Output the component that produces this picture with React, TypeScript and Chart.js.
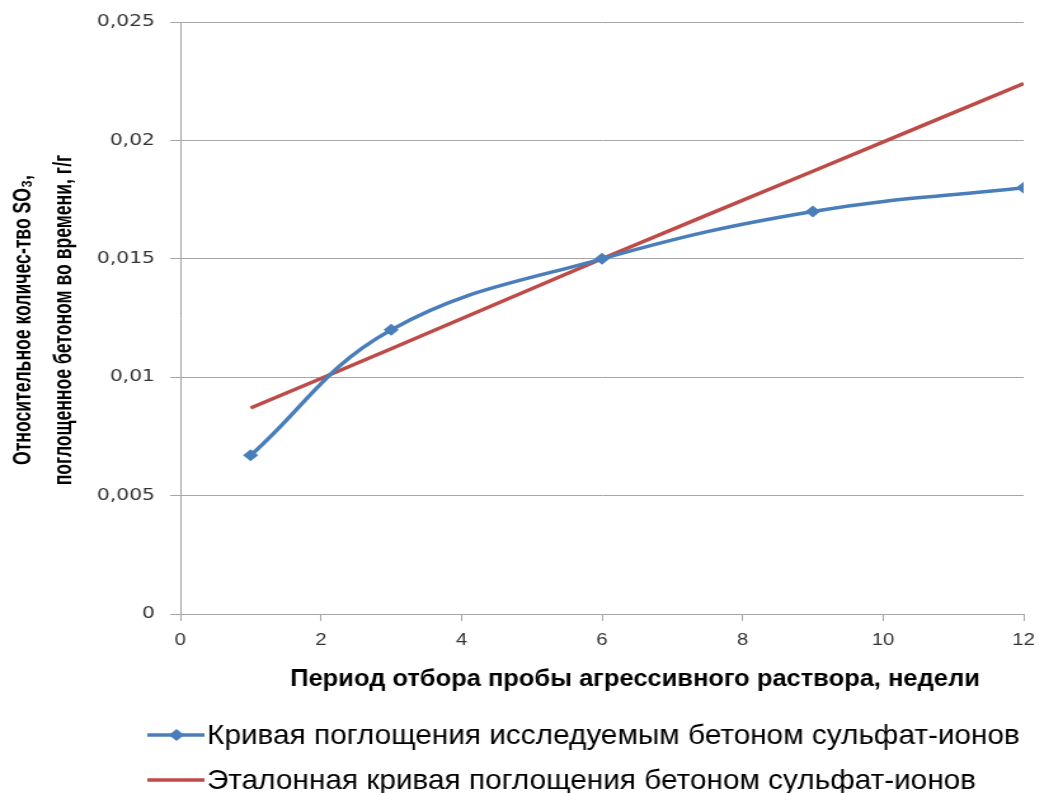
import React, { useEffect, useRef } from "react";
import { Chart, registerables } from "chart.js";

Chart.register(...registerables);

// ---- data ----
const weeks = [1, 3, 6, 9, 12];
const studiedConcrete = [0.0067, 0.012, 0.015, 0.017, 0.018];
const referenceConcrete = [0.0087, 0.0112, 0.015, 0.0187, 0.0224];
const seriesNames = [
  "Кривая поглощения исследуемым бетоном сульфат-ионов",
  "Эталонная кривая поглощения бетоном сульфат-ионов",
];
const xTitle = "Период отбора пробы агрессивного раствора, недели";
const yTitle = ["Относительное количес-тво SO₃,", "поглощенное бетоном во времени, г/г"];

const BLUE = "#4a7ebb";
const RED = "#be4b48";
const GRID = "#a6a6a6";
const SANS = '"Liberation Sans", Arial, sans-serif';
const STRETCH = 1.27;
const W = Math.round(1039 / STRETCH);
const H = 793;

const fmt = (v: number) => (Math.round(v * 1000) / 1000).toString().replace(".", ",");

// draw text condensed horizontally by `factor`
function fitText(ctx: CanvasRenderingContext2D, text: string, x: number, y: number, factor: number, align: "left" | "center") {
  ctx.save();
  ctx.translate(x, y);
  ctx.scale(factor, 1);
  ctx.textAlign = align;
  ctx.fillText(text, 0, 0);
  ctx.restore();
}

const overlay = {
  id: "overlay",
  afterDraw(chart: any) {
    const { ctx, chartArea } = chart;
    const ca = chartArea;
    ctx.save();
    ctx.fillStyle = "#000";
    ctx.textBaseline = "middle";

    // y title (rotated, two lines)
    ctx.font = `bold 21px ${SANS}`;
    const yFactor = 290 / ctx.measureText(yTitle[0]).width;
    const cy = (ca.top + ca.bottom) / 2 + 2;
    const lineX = [ca.left - 124, ca.left - 92];
    for (let i = 0; i < yTitle.length; i++) {
      ctx.save();
      ctx.translate(lineX[i], cy);
      ctx.rotate(-Math.PI / 2);
      fitText(ctx, yTitle[i], 0, 0, yFactor, "center");
      ctx.restore();
    }

    // x title
    ctx.font = `bold 24px ${SANS}`;
    const xFactor = 543 / ctx.measureText(xTitle).width;
    fitText(ctx, xTitle, (ca.left + ca.right) / 2 + 26, ca.bottom + 65, xFactor, "center");

    // legend
    const colors = [BLUE, RED];
    const rows = [ca.bottom + 121, ca.bottom + 166];
    ctx.font = `28px ${SANS}`;
    const lFactor = 640 / ctx.measureText(seriesNames[0]).width;
    for (let i = 0; i < 2; i++) {
      const y = rows[i];
      ctx.strokeStyle = colors[i];
      ctx.lineWidth = 3.5;
      ctx.beginPath();
      ctx.moveTo(ca.left - 26, y);
      ctx.lineTo(ca.left + 19, y);
      ctx.stroke();
      if (i === 0) {
        const cx = ca.left - 3;
        ctx.fillStyle = colors[i];
        ctx.beginPath();
        ctx.moveTo(cx, y - 6);
        ctx.lineTo(cx + 6, y);
        ctx.lineTo(cx, y + 6);
        ctx.lineTo(cx - 6, y);
        ctx.closePath();
        ctx.fill();
      }
      ctx.fillStyle = "#000";
      fitText(ctx, seriesNames[i], ca.left + 21, y + 1, lFactor, "left");
    }
    ctx.restore();
  },
};

export default function App() {
  const ref = useRef<HTMLCanvasElement | null>(null);
  useEffect(() => {
    document.body.style.margin = "0";
    document.body.style.overflow = "hidden";
    const canvas = ref.current!;
    const chart = new Chart(canvas, {
      type: "line",
      data: {
        datasets: [
          {
            label: seriesNames[0],
            data: weeks.map((w, i) => ({ x: w, y: studiedConcrete[i] })),
            borderColor: BLUE,
            backgroundColor: BLUE,
            borderWidth: 3.5,
            pointStyle: "rectRot",
            pointRadius: 6,
            pointBorderWidth: 0,
            pointBackgroundColor: BLUE,
            tension: 0.4,
          },
          {
            label: seriesNames[1],
            data: weeks.map((w, i) => ({ x: w, y: referenceConcrete[i] })),
            borderColor: RED,
            backgroundColor: RED,
            borderWidth: 3.5,
            pointRadius: 0,
            tension: 0.3,
          },
        ],
      },
      options: {
        responsive: false,
        animation: false,
        devicePixelRatio: window.devicePixelRatio || 1,
        layout: { padding: { top: 22, right: 12, bottom: 79, left: 0 } },
        plugins: { legend: { display: false }, tooltip: { enabled: false } },
        scales: {
          x: {
            type: "linear",
            min: 0,
            max: 12,
            ticks: { stepSize: 2, color: "#333", font: { family: SANS, size: 16 }, padding: 10 },
            grid: { drawOnChartArea: false, drawTicks: true, tickLength: 7, color: GRID },
            border: { color: GRID, width: 1 },
            afterFit: (s: any) => {
              s.height = 100;
              s.paddingRight = 0;
              s.paddingLeft = 0;
            },
          },
          y: {
            min: 0,
            max: 0.025,
            ticks: {
              stepSize: 0.005,
              color: "#333",
              font: { family: "DejaVu Sans", size: 16 },
              padding: 12,
              callback: (v: any) => fmt(Number(v)),
            },
            grid: { color: GRID, tickLength: 8 },
            border: { color: GRID, width: 1 },
            afterFit: (s: any) => {
              s.width = 142;
              s.paddingTop = 0;
              s.paddingBottom = 0;
            },
          },
        },
      },
      plugins: [overlay],
    });
    return () => chart.destroy();
  }, []);
  return (
    <div style={{ width: W, height: H, transform: `scaleX(${STRETCH})`, transformOrigin: "0 0" }}>
      <canvas ref={ref} width={W} height={H} style={{ display: "block", width: W, height: H }} />
    </div>
  );
}
